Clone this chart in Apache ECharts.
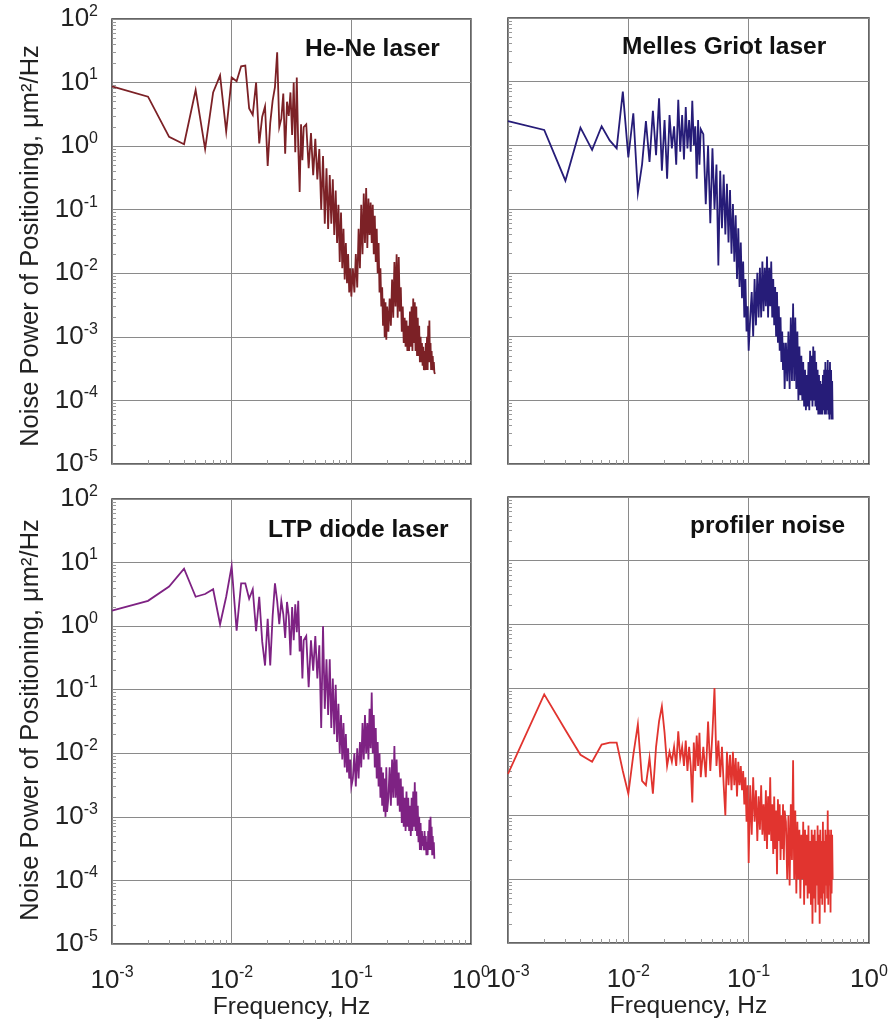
<!DOCTYPE html>
<html>
<head>
<meta charset="utf-8">
<script src="https://cdn.jsdelivr.net/npm/echarts@6/dist/echarts.min.js"></script>
<style>
html,body{margin:0;padding:0;background:#fff;}
#chart{width:893px;height:1021px;}
</style>
</head>
<body>
<div id="chart"></div>
<script>
// Frequency grid in mHz (shared by all four spectra)
var freqMilliHz = [
  1,2,3,4,5,6,7,8,9,10,11,12,13,14,15,16,17,18,19,20,
  21,22,23,24,25,26,27,28,29,30,31,32,33,34,35,36,37,38,39,40,
  42,44,46,48,50,52,54,56,58,60,62,64,66,68,70,72,74,76,78,80,
  82,84,86,88,90,92,94,96,98,100,
  103,106,109,112,115,118,121,124,127,130,133,136,139,142,145,148,151,154,157,160,
  163,166,169,172,175,178,181,184,187,190,193,196,199,
  204,209,214,219,224,229,234,239,244,249,254,259,264,269,274,279,284,289,294,299,
  304,309,314,319,324,329,334,339,344,349,354,359,364,369,374,379,384,389,394,399,
  404,409,414,419,424,429,434,439,444,449,454,459,464,469,474,479,484,489,494,499
];

var heNePower = [
  8.7,6.0,1.4,1.07,7.6,0.9,7,13,1.7,12, 10.5,18,18.5,3.9,3.1,10,1.1,2.9,4.2,0.49,
  2.3,5.2,8.5,30,2,2.7,6.7,0.76,5,3, 7,1.5,10,0.8,12,1.0,0.19,2.2,0.6,2.0,
  2.2,0.45,1.6,0.35,1.3,0.3,0.9,0.1,0.7,0.06, 0.45,0.05,0.35,0.06,0.3,0.04,0.2,0.03,0.12,0.015,
  0.09,0.012,0.05,0.008,0.03,0.007,0.02,0.005,0.012,0.0043,
  0.012,0.005,0.02,0.006,0.05,0.012,0.12,0.02,0.18,0.03, 0.22,0.025,0.15,0.04,0.13,0.03,0.12,0.02,0.08,0.015,
  0.05,0.01,0.03,0.005,0.012,0.003,0.006,0.0015,0.004,0.001, 0.0035,0.0009,0.003,
  0.0012,0.004,0.0015,0.008,0.002,0.015,0.003,0.02,0.002,0.018, 0.0025,0.006,0.0012,0.003,0.0008,0.002,0.0007,0.0018,0.0006,0.0015,
  0.0006,0.0025,0.0007,0.003,0.0006,0.004,0.0008,0.0035,0.0006,0.003, 0.0005,0.002,0.0005,0.0015,0.0004,0.001,0.0004,0.0008,0.00035,0.0007,
  0.0003,0.0006,0.0003,0.0008,0.0003,0.001,0.0003,0.0015,0.0004,0.0018, 0.0004,0.0008,0.0003,0.0006,0.0003,0.0005,0.0003,0.0004,0.00028,0.00026
];

var mellesGriotPower = [
  2.4,1.75,0.28,1.9,0.85,2.0,1.2,0.9,7.0,0.65, 3.2,0.18,0.5,2.4,0.55,3.5,0.7,5.5,0.4,2.5,
  0.3,3.0,0.9,2.0,0.5,5.2,0.8,3.0,0.6,4.0, 0.9,2.5,0.8,5.0,1.0,2.0,0.3,2.5,0.5,1.8,
  1.5,0.12,1.0,0.06,0.9,0.1,0.5,0.013,0.4,0.05, 0.35,0.04,0.25,0.03,0.2,0.02,0.12,0.015,0.08,0.008,
  0.05,0.006,0.03,0.004,0.015,0.002,0.008,0.0012,0.003,0.0006,
  0.002,0.005,0.001,0.008,0.0015,0.01,0.002,0.012,0.002,0.015, 0.0025,0.012,0.003,0.018,0.002,0.012,0.003,0.015,0.002,0.008,
  0.0015,0.006,0.001,0.005,0.0008,0.003,0.0006,0.002,0.0004,0.0012, 0.0003,0.0008,0.00015,
  0.0008,0.0002,0.0012,0.00015,0.002,0.0002,0.0033,0.0002,0.002,0.00015, 0.0012,0.0001,0.0007,0.00012,0.0005,0.0001,0.0004,0.00008,0.0003,0.00007,
  0.00025,0.00008,0.0004,0.00007,0.0006,0.0001,0.0005,0.00008,0.0007,0.0001, 0.0006,0.00008,0.0004,0.00007,0.0003,0.00006,0.00025,0.00006,0.0002,0.00006,
  0.00018,0.00006,0.00025,0.00007,0.0003,0.00006,0.0004,0.00006,0.0003,0.00007, 0.00043,0.00006,0.0003,0.00005,0.0004,0.00006,0.0003,0.00005,0.0002,0.00005
];

var ltpDiodePower = [
  1.75,2.5,4.2,8,2.9,3.2,3.8,1.07,2.9,8.8, 0.85,4.7,4.7,2.7,3.8,0.83,2.9,0.57,0.24,1.3,
  0.24,1.45,4.7,2.5,1.07,2.5,1.55,0.65,2.4,1.45, 0.35,2.0,0.6,2.2,0.8,2.5,0.4,0.7,0.15,0.6,
  0.7,0.11,0.6,0.2,0.7,0.15,0.5,0.025,1.0,0.05, 0.3,0.04,0.3,0.025,0.15,0.02,0.12,0.015,0.06,0.01,
  0.04,0.008,0.03,0.006,0.02,0.005,0.012,0.004,0.008,0.003,
  0.004,0.01,0.003,0.012,0.004,0.015,0.006,0.03,0.008,0.04, 0.01,0.03,0.008,0.05,0.012,0.09,0.01,0.04,0.006,0.025,
  0.004,0.015,0.003,0.01,0.002,0.006,0.0015,0.005,0.0012,0.004, 0.001,0.006,0.0012,
  0.002,0.006,0.0015,0.008,0.002,0.013,0.002,0.008,0.0015,0.005, 0.0012,0.004,0.0008,0.003,0.0007,0.002,0.0006,0.0025,0.0007,0.002,
  0.0006,0.0015,0.0005,0.002,0.0006,0.0025,0.0007,0.0035,0.0006,0.0025, 0.0005,0.0015,0.0004,0.001,0.0003,0.0008,0.0003,0.0006,0.00035,0.0005,
  0.0003,0.0006,0.0003,0.0005,0.00025,0.0004,0.00025,0.0006,0.0003,0.0009, 0.0003,0.001,0.0003,0.0007,0.00025,0.0005,0.00025,0.0004,0.00022,0.00022
];

var profilerPower = [
  0.0045,0.08,0.022,0.009,0.007,0.013,0.014,0.014,0.005,0.0022, 0.009,0.027,0.0035,0.003,0.008,0.0022,0.012,0.03,0.052,0.02,
  0.006,0.01,0.007,0.012,0.006,0.021,0.008,0.012,0.006,0.015, 0.005,0.012,0.006,0.0016,0.014,0.005,0.018,0.006,0.02,0.004,
  0.012,0.004,0.03,0.005,0.02,0.1,0.006,0.015,0.004,0.012, 0.003,0.001,0.01,0.003,0.009,0.0025,0.01,0.003,0.008,0.002,
  0.007,0.003,0.006,0.0025,0.005,0.0015,0.004,0.0008,0.003,0.00018,
  0.003,0.0005,0.004,0.0008,0.0025,0.0004,0.002,0.0006,0.003,0.0005, 0.0015,0.0004,0.0025,0.0003,0.002,0.0005,0.004,0.0004,0.0015,0.00025,
  0.002,0.0003,0.0012,0.00012,0.0018,0.0004,0.0015,0.0002,0.001,0.0003, 0.0015,0.0002,0.0012,
  0.0008,0.0001,0.001,0.00008,0.0015,0.0002,0.0074,0.0001,0.0012,0.00006, 0.0008,0.0001,0.0006,0.00005,0.0005,0.0001,0.0008,0.00004,0.0006,0.00008,
  0.0005,0.00005,0.0007,0.00006,0.0004,0.00004,0.0006,0.00002,0.0005,0.00005, 0.0006,0.00003,0.0004,0.00008,0.0007,0.00004,0.0005,0.00002,0.0006,0.00005,
  0.0004,0.00004,0.0008,0.00006,0.0004,0.00003,0.0006,0.00008,0.0005,0.00005, 0.0012,0.00004,0.0006,0.00008,0.0005,0.00003,0.0006,0.00006,0.0005,0.0001
];

var panelTitles = ['He-Ne laser', 'Melles Griot laser', 'LTP diode laser', 'profiler noise'];
var panelColors = ['#7c2126', '#261c78', '#7e2283', '#e1342f'];
var panelSeries = [heNePower, mellesGriotPower, ltpDiodePower, profilerPower];
var yAxisTitle = 'Noise Power of Positioning, \u03bcm\u00b2/Hz';
var xAxisTitle = 'Frequency, Hz';
var xMinorTicks = [0.002,0.003,0.004,0.005,0.006,0.007,0.008,0.009,0.02,0.03,0.04,0.05,0.06,0.07,0.08,0.09,0.2,0.3,0.4,0.5,0.6,0.7,0.8,0.9];
var yMinorTicks = [];
[1e-5,1e-4,1e-3,1e-2,1e-1,1,10].forEach(function (d) {
  for (var m = 2; m <= 9; m++) yMinorTicks.push(+(d * m).toPrecision(3));
});

var FONT = 'Liberation Sans, Arial, sans-serif';
var grids = [
  {left: 112, top: 19, width: 359, height: 445},
  {left: 508, top: 18, width: 361, height: 446},
  {left: 112, top: 499, width: 359, height: 445},
  {left: 508, top: 497, width: 361, height: 446}
];
var titlePos = [[305, 37], [622, 35], [268, 518], [690, 514]];
var yNameCenters = [[31, 246], [31, 720]];

function powLabel(v) {
  var e = Math.round(Math.log10(v));
  return '{b|10}{s|' + e + '}';
}
var labelRich = {
  b: {fontSize: 26, fontFamily: FONT, color: '#222'},
  s: {fontSize: 16, fontFamily: FONT, color: '#222', verticalAlign: 'bottom', padding: [0, 0, 15, 0]}
};

var option = {
  backgroundColor: '#fff',
  animation: false,
  grid: grids.map(function (g) {
    return Object.assign({show: true, borderColor: '#333', borderWidth: 1.5, backgroundColor: 'transparent'}, g);
  }),
  title: panelTitles.map(function (t, i) {
    return {text: t, left: titlePos[i][0], top: titlePos[i][1], padding: 0,
      textStyle: {fontFamily: FONT, fontSize: 24.5, fontWeight: 'bold', color: '#111'}};
  }),
  graphic: yNameCenters.map(function (c) {
    return {type: 'text', x: c[0], y: c[1], rotation: Math.PI / 2,
      style: {text: yAxisTitle, font: '25.5px ' + FONT, fill: '#222', align: 'center', verticalAlign: 'middle'}};
  }),
  xAxis: [],
  yAxis: [],
  series: []
};

for (var i = 0; i < 4; i++) {
  var bottomRow = i >= 2;
  var leftCol = i % 2 === 0;
  option.xAxis.push({
    type: 'log', logBase: 10, gridIndex: i, min: 0.001, max: 1, splitNumber: 3,
    position: 'bottom',
    name: bottomRow ? xAxisTitle : '', nameLocation: 'middle', nameGap: 50,
    nameTextStyle: {fontFamily: FONT, fontSize: 24.5, color: '#222'},
    axisLine: {show: false},
    axisTick: {show: false},
    axisLabel: {show: bottomRow, formatter: powLabel, rich: labelRich, margin: 21, showMinLabel: true, showMaxLabel: true},
    splitLine: {show: true, lineStyle: {color: '#8a8a8a', width: 1}}
  });
  option.yAxis.push({
    type: 'log', logBase: 10, gridIndex: i, min: 1e-5, max: 100, splitNumber: 7,
    position: 'left',
    axisLine: {show: false},
    axisTick: {show: false},
    axisLabel: {show: leftCol, formatter: powLabel, rich: labelRich, margin: 14, showMinLabel: true, showMaxLabel: true},
    splitLine: {show: true, lineStyle: {color: '#8a8a8a', width: 1}}
  });
}
// minor tick axes
for (var j = 0; j < 4; j++) {
  option.xAxis.push({
    type: 'log', logBase: 10, gridIndex: j, min: 0.001, max: 1, position: 'bottom',
    axisLine: {show: false}, axisLabel: {show: false}, splitLine: {show: false},
    axisTick: {show: true, inside: true, length: 4, customValues: xMinorTicks, lineStyle: {color: '#999'}}
  });
  option.yAxis.push({
    type: 'log', logBase: 10, gridIndex: j, min: 1e-5, max: 100, position: 'left',
    axisLine: {show: false}, axisLabel: {show: false}, splitLine: {show: false},
    axisTick: {show: true, inside: true, length: 4, customValues: yMinorTicks, lineStyle: {color: '#999'}}
  });
}

for (var k = 0; k < 4; k++) {
  var vals = panelSeries[k];
  option.series.push({
    type: 'line', name: panelTitles[k], xAxisIndex: k, yAxisIndex: k,
    showSymbol: false, symbol: 'none',
    lineStyle: {color: panelColors[k], width: 1.8, join: 'miter'},
    data: freqMilliHz.map(function (f, idx) { return [f / 1000, vals[idx]]; })
  });
}

var chart = echarts.init(document.getElementById('chart'));
chart.setOption(option);
</script>
</body>
</html>
